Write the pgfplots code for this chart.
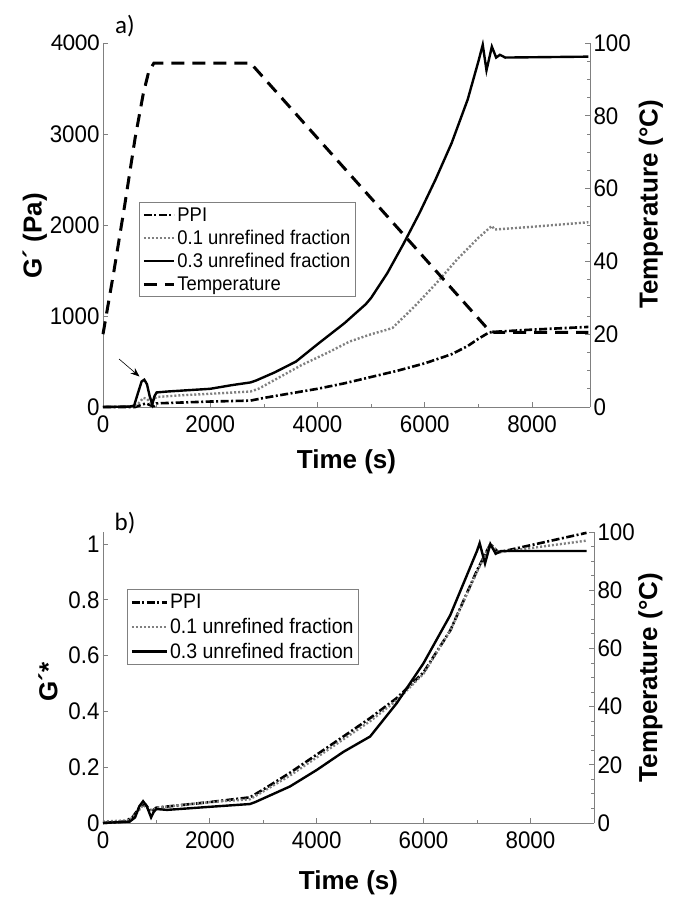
\documentclass[border=0pt]{standalone}
\usepackage{fontspec}
\setmainfont{Liberation Sans}
\newfontfamily\calib{Carlito}
\newfontfamily\tickfont[FakeStretch=0.93]{Liberation Sans}
\usepackage{pgfplots}
\pgfplotsset{compat=1.18}
\usetikzlibrary{arrows.meta}

% panel a) G' (Pa) against time
\pgfplotstableread{
t G
0 0
600 0
700 20
800 40
900 15
950 10
1000 40
1500 50
2000 60
2750 70
3000 100
3500 150
4000 200
4500 260
5000 330
5500 400
6000 480
6500 580
6800 670
7000 750
7200 820
7400 830
8000 850
9050 880
}\appi
\pgfplotstableread{
t G
0 0
550 5
650 30
750 100
820 90
900 40
950 90
1000 110
1500 130
2000 145
2750 170
2900 200
3300 330
3700 460
4200 600
4600 720
5000 800
5300 850
5400 870
5800 1100
6200 1350
6600 1620
7000 1860
7250 1990
7300 1950
8000 1980
9050 2030
}\aone
\pgfplotstableread{
t G
0 0
500 5
580 15
650 150
720 280
770 300
820 250
870 120
920 30
960 120
1000 160
1200 170
1600 185
2000 200
2400 240
2750 270
2850 290
3200 380
3600 500
4000 690
4500 920
4900 1130
5000 1200
5300 1470
5600 1790
5900 2130
6200 2500
6500 2900
6800 3380
7000 3800
7080 3980
7150 3700
7250 3960
7330 3840
7400 3870
7500 3840
9050 3850
}\athree
\pgfplotstableread{
t T
0 20
200 37
400 55
600 74
750 86
850 92
950 94.5
2750 94.5
7200 21
7300 20.5
9050 20.5
}\atemp

% panel b) normalised G'*
\pgfplotstableread{
t G
0 0
400 0.005
550 0.02
700 0.06
800 0.065
900 0.04
1000 0.055
1500 0.065
2000 0.075
2750 0.092
3000 0.12
3500 0.18
4000 0.245
4500 0.31
5000 0.376
5500 0.448
6000 0.54
6500 0.69
7000 0.905
7250 1.0
7400 0.97
9050 1.04
}\bppi
\pgfplotstableread{
t G
0 0.005
500 0.01
650 0.04
750 0.065
850 0.05
950 0.045
1000 0.055
2000 0.075
2750 0.085
3500 0.17
4000 0.235
4500 0.3
5000 0.365
5500 0.44
6000 0.535
6500 0.69
7000 0.9
7250 1.0
7400 0.97
9050 1.012
}\bone
\pgfplotstableread{
t G
0 0
500 0.005
600 0.02
680 0.06
750 0.078
820 0.06
900 0.02
950 0.04
1000 0.05
1200 0.047
2000 0.058
2750 0.068
2850 0.075
3500 0.131
4000 0.19
4500 0.255
5000 0.31
5500 0.43
6000 0.573
6500 0.745
7000 0.975
7050 1.003
7150 0.93
7250 1.0
7350 0.965
7450 0.975
9050 0.975
}\bthree

\pgfplotsset{
  common/.style={
    scale only axis, tick align=inside,
    axis line style={-, black!50, line width=0.8pt},
    every tick/.style={black!50, line width=0.8pt},
    major tick length=5pt, minor tick length=3pt,
    tick label style={font=\tickfont\fontsize{24}{24}\selectfont},
    label style={font=\fontsize{26}{26}\selectfont\bfseries},
    /pgf/number format/assume math mode=true,
    /pgf/number format/1000 sep={},
    scaled ticks=false, clip=false,
    xmin=0,
  },
  leftax/.style={common,
    axis x line*=bottom, axis y line*=left,
    xtick={0,2000,4000,6000,8000}, minor x tick num=1,
    xticklabel style={yshift=-5pt},
  },
  rightax/.style={common,
    axis x line=none, axis y line*=right,
    ymin=0, ymax=100, ytick={0,20,...,100}, minor y tick num=3,
    ylabel={Temperature (°C)},
  },
  ppi/.style={black, line width=2.6pt, dash pattern=on 8pt off 2.5pt on 2pt off 2.5pt},
  fone/.style={black!50, line width=2.4pt, dash pattern=on 2pt off 2pt},
  fthree/.style={black, line width=2.4pt},
  temp/.style={black, line width=3pt, dash pattern=on 13pt off 8pt},
  leg/.style={legend cell align=left,
    legend image code/.code={\draw[##1] (0pt,0pt) -- (30pt,0pt);},
    legend style={draw=black!50, line width=0.8pt, fill=white,
      font=\tickfont\fontsize{19.8}{21}\selectfont, row sep=3.5pt, inner sep=3pt},
  },
}

\begin{document}
\begin{tikzpicture}
\useasboundingbox (0,0) rectangle (676pt,899pt);

% ---- a) left axis
\begin{axis}[leftax, at={(103pt,492pt)}, anchor=south west,
  width=487pt, height=364pt, xmax=9080, ymin=0, ymax=4000,
  ytick={0,1000,2000,3000,4000},
  yticklabels={0,1000,2000,3000,{\calib 4000}},
  xlabel={Time (s)}, ylabel={G´ (Pa)},
  xlabel style={at={(axis description cs:0.5,-0.15)}, anchor=center},
  ylabel style={at={(axis description cs:-0.14,0.47)}, anchor=center},
]
\addplot[ppi] table[x=t, y=G] {\appi};
\addplot[fone] table[x=t, y=G] {\aone};
\addplot[fthree] table[x=t, y=G] {\athree};
\draw[-{Stealth[length=9pt,width=7pt]}, line width=0.6pt]
  (axis cs:300,527) -- (axis cs:680,335);
\node[font=\calib\fontsize{25}{25}\selectfont, anchor=center]
  at (axis description cs:0.045,1.047) {a)};
\end{axis}

% ---- a) right axis (temperature)
\begin{axis}[rightax, leg, at={(103pt,492pt)}, anchor=south west,
  width=487pt, height=364pt, xmax=9080,
  ylabel style={at={(axis description cs:1.125,0.557)}, anchor=center},
  legend style={at={(axis description cs:0.074,0.563)}, anchor=north west},
]
\addlegendimage{ppi, line width=1.8pt}
\addlegendentry{PPI}
\addlegendimage{fone, line width=1.8pt}
\addlegendentry{0.1 unrefined fraction}
\addlegendimage{fthree, line width=1.8pt}
\addlegendentry{0.3 unrefined fraction}
\addplot[temp] table[x=t, y=T] {\atemp};
\addlegendentry{Temperature}
\end{axis}

% ---- b) right axis (no curve)
\begin{axis}[rightax, at={(103pt,76pt)}, anchor=south west,
  width=491pt, height=291pt, xmax=9190,
  ylabel style={at={(axis description cs:1.115,0.5)}, anchor=center},
]
\addplot[draw=none] coordinates {(0,0)};
\end{axis}

% ---- b) left axis
\begin{axis}[leftax, leg, at={(103pt,76pt)}, anchor=south west,
  width=491pt, height=291pt, xmax=9190, ymin=0, ymax=1.043,
  ytick={0,0.2,0.4,0.6,0.8,1},
  xlabel={Time (s)}, ylabel={G´*},
  xlabel style={at={(axis description cs:0.5,-0.205)}, anchor=center},
  ylabel style={at={(axis description cs:-0.112,0.484)}, anchor=center},
  legend style={at={(axis description cs:0.049,0.804)}, anchor=north west,
    font=\tickfont\fontsize{21}{22}\selectfont, row sep=4pt},
  legend image code/.code={\draw[#1] (0pt,0pt) -- (35pt,0pt);},
]
\addplot[ppi] table[x=t, y=G] {\bppi};
\addlegendentry{PPI}
\addplot[fone] table[x=t, y=G] {\bone};
\addlegendentry{0.1 unrefined fraction}
\addplot[fthree] table[x=t, y=G] {\bthree};
\addlegendentry{0.3 unrefined fraction}
\node[font=\calib\fontsize{25}{25}\selectfont, anchor=center]
  at (axis description cs:0.045,1.03) {b)};
\end{axis}
\end{tikzpicture}
\end{document}
